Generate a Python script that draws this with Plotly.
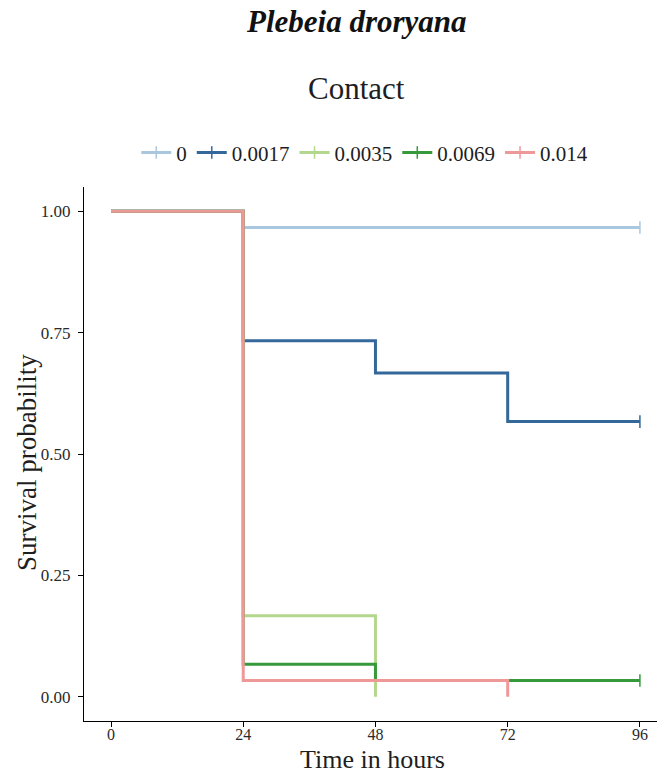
import plotly.graph_objects as go

# Kaplan-Meier survival estimates by concentration (contact exposure)
concentrations = ["0", "0.0017", "0.0035", "0.0069", "0.014"]
times_0 = [0, 24, 96]
surv_0 = [1.0, 0.9667, 0.9667]
times_0017 = [0, 24, 48, 72, 96]
surv_0017 = [1.0, 0.7333, 0.6667, 0.5667, 0.5667]
times_0035 = [0, 24, 48]
surv_0035 = [1.0, 0.1667, 0.0]
times_0069 = [0, 24, 48, 96]
surv_0069 = [1.0, 0.0667, 0.0333, 0.0333]
times_014 = [0, 24, 72]
surv_014 = [1.0, 0.0333, 0.0]
censored = [True, True, False, True, False]
colors = ["#a9c8e0", "#35689a", "#b3d78c", "#369a3c", "#ef9898"]

x_ticks = [0, 24, 48, 72, 96]
y_ticks = [0.0, 0.25, 0.5, 0.75, 1.0]
y_tick_labels = ["0.00", "0.25", "0.50", "0.75", "1.00"]

series = [
    (times_0, surv_0),
    (times_0017, surv_0017),
    (times_0035, surv_0035),
    (times_0069, surv_0069),
    (times_014, surv_014),
]

SERIF = "Liberation Serif, Times New Roman, serif"
TEXT = "#1e1e1e"

fig = go.Figure()
for name, (t, s), cens, col in zip(concentrations, series, censored, colors):
    fig.add_trace(go.Scatter(
        x=t, y=s, mode="lines", line=dict(color=col, width=3, shape="hv"),
        name=name, showlegend=False, legendgroup=name,
    ))
    if cens:
        fig.add_trace(go.Scatter(
            x=[t[-1]], y=[s[-1]], mode="markers",
            marker=dict(symbol="line-ns", size=9,
                        line=dict(color=col, width=1.5)),
            showlegend=False, legendgroup=name, hoverinfo="skip",
        ))
    # legend key: line with a censor tick
    fig.add_trace(go.Scatter(
        x=[None], y=[None], mode="lines+markers", name=name,
        line=dict(color=col, width=3), legendgroup=name,
        marker=dict(symbol="line-ns", size=9, line=dict(color=col, width=1.5)),
    ))

fig.update_layout(
    width=659, height=773,
    margin=dict(l=84, r=2, t=187, b=52),
    paper_bgcolor="white", plot_bgcolor="white",
    font=dict(family=SERIF, color=TEXT),
    legend=dict(
        orientation="h", x=0.49, xanchor="center", y=1.064, yanchor="middle",
        font=dict(size=21, family=SERIF, color=TEXT),
        itemwidth=30, tracegroupgap=0,
    ),
    annotations=[
        dict(text="<b><i>Plebeia droryana</i></b>", x=0.476, y=1, xref="paper",
             yref="paper", yanchor="middle", yshift=166, showarrow=False,
             font=dict(size=31, family=SERIF, color="#111111")),
        dict(text="Contact", x=0.476, y=1, xref="paper", yref="paper",
             yanchor="middle", yshift=99, showarrow=False,
             font=dict(size=31, family=SERIF, color=TEXT)),
        dict(text="Time in hours", x=0.503, y=0, xref="paper", yref="paper",
             yanchor="middle", yshift=-38, showarrow=False,
             font=dict(size=26, family=SERIF, color=TEXT)),
        dict(text="Survival probability", x=0, y=0.483, xref="paper",
             yref="paper", xanchor="center", yanchor="middle", xshift=-57,
             textangle=-90, showarrow=False,
             font=dict(size=27, family=SERIF, color=TEXT)),
    ],
)
fig.update_xaxes(
    range=[-4.9, 99.1], tickvals=x_ticks, ticks="outside", ticklen=5,
    tickcolor="black", showline=True, linecolor="black", linewidth=1.2,
    showgrid=False, zeroline=False, automargin=False, ticklabelstandoff=-6,
    tickfont=dict(size=16, family=SERIF, color="#2a2a2a"),
)
fig.update_yaxes(
    range=[-0.05, 1.05], tickvals=y_ticks, ticktext=y_tick_labels,
    ticks="outside", ticklen=5, tickcolor="black", showline=True,
    linecolor="black", linewidth=1.2, showgrid=False, zeroline=False,
    automargin=False, ticklabelstandoff=4,
    tickfont=dict(size=17, family=SERIF, color="#2a2a2a"),
)

fig.write_html("out.html")
